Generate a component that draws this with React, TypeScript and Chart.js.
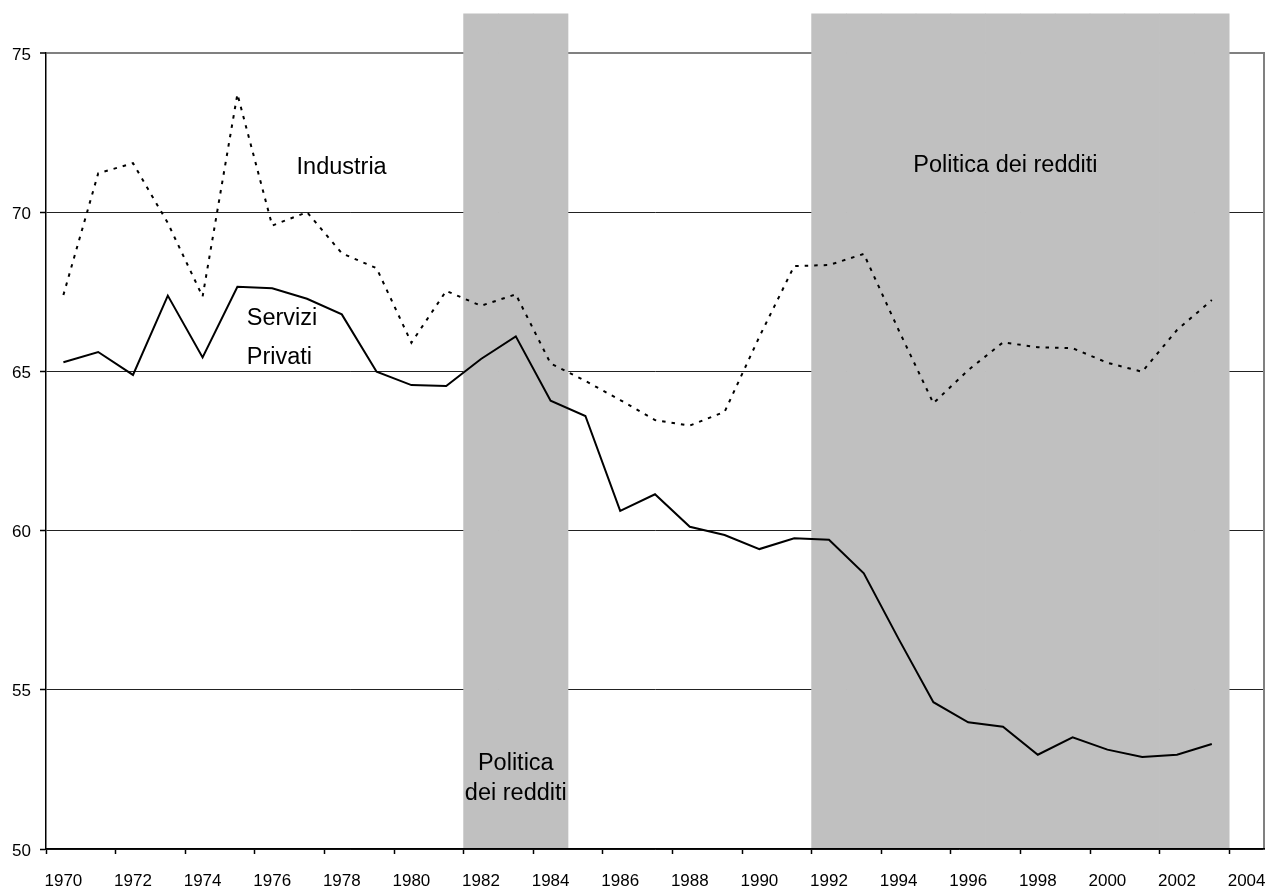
import React, { useEffect, useRef } from 'react';
import { Chart, registerables } from 'chart.js';
Chart.register(...registerables);

const years: string[] = [
  '1970','1971','1972','1973','1974','1975','1976','1977','1978','1979',
  '1980','1981','1982','1983','1984','1985','1986','1987','1988','1989',
  '1990','1991','1992','1993','1994','1995','1996','1997','1998','1999',
  '2000','2001','2002','2003','2004'
];

const serviziPrivati: (number | null)[] = [
  65.29, 65.61, 64.89, 67.38, 65.44, 67.66, 67.61, 67.28, 66.79, 64.99,
  64.57, 64.54, 65.39, 66.10, 64.08, 63.60, 60.62, 61.14, 60.12, 59.86,
  59.42, 59.76, 59.71, 58.66, 56.60, 54.61, 53.98, 53.84, 52.96, 53.51,
  53.12, 52.89, 52.96, 53.30, null
];

const industria: (number | null)[] = [
  67.40, 71.22, 71.54, 69.66, 67.35, 73.71, 69.58, 70.00, 68.71, 68.24,
  65.90, 67.53, 67.06, 67.42, 65.25, 64.70, 64.10, 63.47, 63.30, 63.73,
  66.09, 68.31, 68.34, 68.69, 66.30, 64.00, 65.04, 65.91, 65.76, 65.73,
  65.27, 64.99, 66.30, 67.24, null
];

// periods of "Politica dei redditi" (first and last year shaded)
const policyPeriods: [number, number][] = [[1982, 1984], [1992, 2003]];

const yMin = 50;
const yMax = 75;
const yStep = 5;

const annotations = [
  { text: 'Industria', year: 1976.7, value: 71.39, align: 'left' },
  { text: 'Servizi', year: 1975.27, value: 66.65, align: 'left' },
  { text: 'Privati', year: 1975.27, value: 65.45, align: 'left' },
  { text: 'Politica dei redditi', year: 1997.07, value: 71.48, align: 'center' },
  { text: 'Politica', year: 1983.0, value: 52.67, align: 'center' },
  { text: 'dei redditi', year: 1983.0, value: 51.73, align: 'center' },
];

const FONT = '"Liberation Sans", Arial, sans-serif';

const shading = years.map((y) => {
  const yr = Number(y);
  return policyPeriods.some(([a, b]) => yr >= a && yr <= b) ? 1 : null;
});

const textPlugin = {
  id: 'textLabels',
  afterDatasetsDraw(chart: any) {
    const { ctx, scales } = chart;
    const x = scales.x;
    const y = scales.y;
    const first = Number(years[0]);
    ctx.save();
    ctx.font = `23.5px ${FONT}`;
    ctx.fillStyle = '#000';
    ctx.textBaseline = 'middle';
    for (const a of annotations) {
      ctx.textAlign = a.align as CanvasTextAlign;
      ctx.fillText(a.text, x.getPixelForValue(a.year - first), y.getPixelForValue(a.value));
    }
    ctx.restore();
  },
};

export default function App() {
  const ref = useRef<HTMLCanvasElement | null>(null);
  useEffect(() => {
    if (!ref.current) return;
    const chart = new Chart(ref.current, {
      type: 'line',
      data: {
        labels: years,
        datasets: [
          {
            type: 'line',
            label: 'Industria',
            data: industria,
            borderColor: '#000',
            borderWidth: 2,
            borderDash: [3.5, 6],
            pointRadius: 0,
            tension: 0,
            fill: false,
            yAxisID: 'y',
            order: 1,
          } as any,
          {
            type: 'line',
            label: 'Servizi Privati',
            data: serviziPrivati,
            borderColor: '#000',
            borderWidth: 2,
            pointRadius: 0,
            tension: 0,
            fill: false,
            yAxisID: 'y',
            order: 1,
          } as any,
          {
            type: 'bar',
            label: 'Politica dei redditi',
            data: shading,
            backgroundColor: '#C0C0C0',
            borderWidth: 0,
            barPercentage: 1,
            categoryPercentage: 1,
            yAxisID: 'y2',
            clip: false,
            order: 2,
          } as any,
        ],
      },
      options: {
        responsive: false,
        animation: false,
        layout: { padding: { left: 0, top: 53, right: 5, bottom: 0 } },
        plugins: {
          legend: { display: false },
          tooltip: { enabled: false },
        },
        scales: {
          x: {
            type: 'category',
            offset: true,
            grid: {
              offset: true,
              drawOnChartArea: false,
              drawTicks: true,
              tickLength: 5,
              tickColor: (ctx: any) => (ctx.index !== undefined && ctx.index % 2 === 0 ? '#000' : 'rgba(0,0,0,0)'),
              tickWidth: 1.5,
            },
            border: { display: true, color: '#000', width: 1.5, z: 1 },
            ticks: {
              autoSkip: false,
              maxRotation: 0,
              minRotation: 0,
              padding: 0,
              color: '#000',
              font: { family: FONT, size: 17, lineHeight: 3.25 },
              callback: (_v: any, i: number) => (i % 2 === 0 ? years[i] : ''),
            },
            afterFit: (s: any) => { s.height = 40; },
          },
          y: {
            type: 'linear',
            position: 'left',
            min: yMin,
            max: yMax,
            ticks: {
              stepSize: yStep,
              padding: 9,
              labelOffset: 2,
              color: '#000',
              font: { family: FONT, size: 17 },
            },
            grid: {
              color: (ctx: any) => (ctx.tick && ctx.tick.value === yMax ? '#808080' : '#222'),
              lineWidth: (ctx: any) => (ctx.tick && ctx.tick.value === yMax ? 2 : 1),
              tickColor: '#000',
              tickLength: 6,
              tickWidth: 1.5,
            },
            border: { display: true, color: '#000', width: 1.5 },
            afterFit: (s: any) => { s.width = 46; },
          },
          y2: {
            type: 'linear',
            position: 'right',
            min: 0,
            max: 0.953,
            display: true,
            ticks: { display: false },
            grid: { drawOnChartArea: false, drawTicks: false },
            border: { display: true, color: '#808080', width: 2 },
            afterFit: (s: any) => { s.width = 0; },
          },
        },
      },
      plugins: [textPlugin],
    });
    return () => chart.destroy();
  }, []);
  return (
    <div style={{ position: 'absolute', left: 0, top: 0, width: 1269, height: 889, background: '#fff' }}>
      <canvas ref={ref} width={1269} height={889} style={{ display: 'block' }} />
    </div>
  );
}
